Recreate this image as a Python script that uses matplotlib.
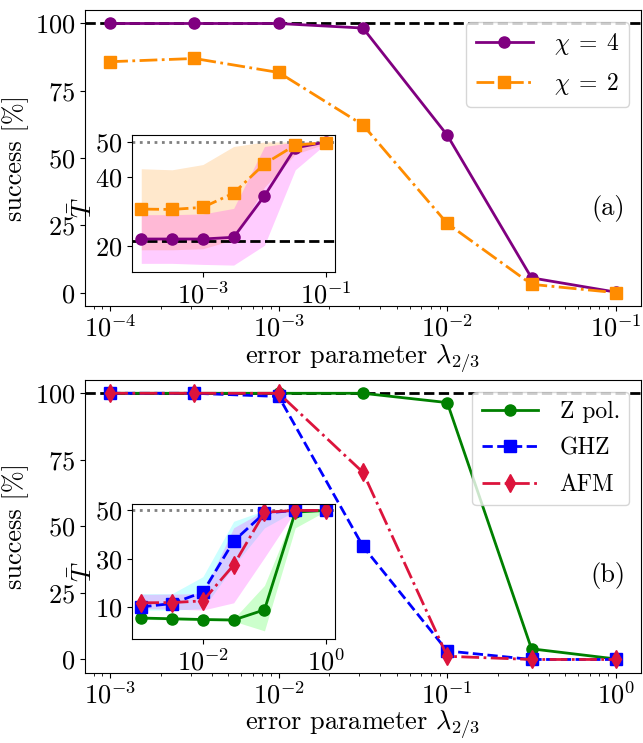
import numpy as np
import matplotlib
matplotlib.use("Agg")
import matplotlib.pyplot as plt

plt.rcParams["font.family"] = ["cmr10", "DejaVu Serif"]
plt.rcParams["mathtext.fontset"] = "cm"
plt.rcParams["axes.formatter.use_mathtext"] = True
plt.rcParams["font.size"] = 19

# ---- panel (a): bond dimension ----
lam_a = [1e-4, 10**-3.5, 1e-3, 10**-2.5, 1e-2, 10**-1.5, 1e-1]
succ_chi4 = [100, 100, 100, 98.3, 58.5, 5.5, 0.2]
succ_chi2 = [85.8, 87.0, 81.8, 62.3, 25.7, 3.1, 0.0]

T_chi4 = [22.1, 22.1, 22.1, 22.6, 34.5, 48.3, 50.0]
T_chi4_lo = [15.1, 15.1, 14.8, 14.6, 20.3, 42.0, 49.5]
T_chi4_hi = [29.1, 29.1, 29.3, 30.9, 48.7, 50.0, 50.0]
T_chi2 = [30.7, 30.6, 31.2, 35.3, 43.7, 49.1, 49.8]
T_chi2_lo = [19.0, 19.0, 19.3, 21.9, 37.0, 46.5, 49.5]
T_chi2_hi = [42.3, 42.0, 43.5, 48.7, 50.0, 50.0, 50.0]
T_min_a = 21.6

# ---- panel (b): initial states ----
lam_b = [1e-3, 10**-2.5, 1e-2, 10**-1.5, 1e-1, 10**-0.5, 1e0]
succ_z = [100, 100, 100, 100, 96.5, 4.0, 0.2]
succ_ghz = [100, 100, 98.8, 42.5, 3.2, 0.0, 0.0]
succ_afm = [100, 100, 100, 70.3, 1.2, 0.0, 0.0]

T_z = [5.5, 5.2, 4.9, 4.7, 8.9, 49.3, 50.0]
T_z_lo = [5.0, 4.7, 4.4, 4.2, 0.2, 42.8, 49.8]
T_z_hi = [6.0, 5.7, 5.4, 5.2, 19.0, 50.0, 50.0]
T_ghz = [10.1, 11.5, 16.2, 37.3, 48.9, 50.0, 50.0]
T_ghz_lo = [8.8, 8.8, 9.4, 27.0, 42.8, 49.8, 49.8]
T_ghz_hi = [15.6, 15.6, 22.6, 45.5, 50.0, 50.0, 50.0]
T_afm = [11.8, 11.9, 12.6, 27.4, 49.2, 50.0, 50.0]
T_afm_lo = [9.4, 9.2, 8.8, 11.8, 30.5, 49.8, 49.8]
T_afm_hi = [15.3, 15.4, 15.6, 42.8, 50.0, 50.0, 50.0]

T_max = 50

fig = plt.figure(figsize=(6.43, 7.43), dpi=100)

# main axes
ax_a = fig.add_axes([0.132, 0.588, 0.865, 0.3985])
ax_b = fig.add_axes([0.132, 0.0945, 0.865, 0.3941])
# insets
in_a = fig.add_axes([0.2053, 0.6343, 0.3162, 0.184])
in_b = fig.add_axes([0.2053, 0.1405, 0.3162, 0.181])

lw = 2
ms = 8

# (a) main
ax_a.axhline(100, color="black", ls="--", lw=lw, zorder=1)
ax_a.plot(lam_a, succ_chi4, color="purple", ls="-", marker="o", lw=lw, ms=ms, label=r"$\chi\;=\;4$")
ax_a.plot(lam_a, succ_chi2, color="darkorange", ls="-.", marker="s", lw=lw, ms=ms, label=r"$\chi\;=\;2$")
ax_a.set_xscale("log")
ax_a.set_xlim(10**-4.15, 10**-0.85)
ax_a.set_ylim(-5, 105)
ax_a.set_yticks([0, 25, 50, 75, 100])
ax_a.tick_params(axis="x", which="major", pad=2.5)
ax_a.set_xlabel(r"error parameter $\lambda_{2/3}$", labelpad=1)
ax_a.set_ylabel(r"success [%]")
ax_a.text(0.94, 0.33, "(a)", transform=ax_a.transAxes, ha="center", va="center")
ax_a.legend(loc="upper right", fontsize=17, handlelength=2.4, handletextpad=0.9,
            labelspacing=0.6)

# (a) inset
in_a.fill_between(lam_a, T_chi2_lo, T_chi2_hi, color="darkorange", alpha=0.2, lw=0)
in_a.fill_between(lam_a, T_chi4_lo, T_chi4_hi, color="magenta", alpha=0.2, lw=0)
in_a.axhline(T_max, color="gray", ls=":", lw=lw)
in_a.axhline(T_min_a, color="black", ls="--", lw=lw)
in_a.plot(lam_a, T_chi4, color="purple", ls="-", marker="o", lw=lw, ms=ms)
in_a.plot(lam_a, T_chi2, color="darkorange", ls="-.", marker="s", lw=lw, ms=ms)
in_a.set_xscale("log")
in_a.set_xlim(10**-4.15, 10**-0.85)
in_a.set_ylim(12.7, 52)
in_a.set_yticks([20, 40, 50])
in_a.set_xticks([1e-3, 1e-1])
in_a.xaxis.set_minor_locator(matplotlib.ticker.NullLocator())
in_a.set_ylabel(r"$\bar{T}$")
in_a.yaxis.set_label_coords(-0.17, 0.47)

# (b) main
ax_b.axhline(100, color="black", ls="--", lw=lw, zorder=1)
ax_b.plot(lam_b, succ_z, color="green", ls="-", marker="o", lw=lw, ms=ms, label="Z pol.")
ax_b.plot(lam_b, succ_ghz, color="blue", ls="--", marker="s", lw=lw, ms=ms, label="GHZ")
ax_b.plot(lam_b, succ_afm, color="crimson", ls="-.", marker="d", lw=lw, ms=ms + 1, label="AFM")
ax_b.set_xscale("log")
ax_b.set_xlim(10**-3.15, 10**0.15)
ax_b.set_ylim(-5, 105)
ax_b.set_yticks([0, 25, 50, 75, 100])
ax_b.tick_params(axis="x", which="major", pad=2.5)
ax_b.set_xlabel(r"error parameter $\lambda_{2/3}$", labelpad=0)
ax_b.set_ylabel(r"success [%]")
ax_b.text(0.94, 0.333, "(b)", transform=ax_b.transAxes, ha="center", va="center")
ax_b.legend(loc="upper right", fontsize=17, handlelength=2.4, handletextpad=0.9,
            labelspacing=0.6)

# (b) inset
in_b.fill_between(lam_b, T_z_lo, T_z_hi, color="lime", alpha=0.2, lw=0)
in_b.fill_between(lam_b, T_ghz_lo, T_ghz_hi, color="cyan", alpha=0.2, lw=0)
in_b.fill_between(lam_b, T_afm_lo, T_afm_hi, color="magenta", alpha=0.2, lw=0)
in_b.axhline(T_max, color="gray", ls=":", lw=lw)
in_b.plot(lam_b, T_z, color="green", ls="-", marker="o", lw=lw, ms=ms)
in_b.plot(lam_b, T_ghz, color="blue", ls="--", marker="s", lw=lw, ms=ms)
in_b.plot(lam_b, T_afm, color="crimson", ls="-.", marker="d", lw=lw, ms=ms + 1)
in_b.set_xscale("log")
in_b.set_xlim(10**-3.15, 10**0.15)
in_b.set_ylim(-3, 52.6)
in_b.set_yticks([10, 30, 50])
in_b.set_xticks([1e-2, 1e0])
in_b.xaxis.set_minor_locator(matplotlib.ticker.NullLocator())
in_b.set_ylabel(r"$\bar{T}$")
in_b.yaxis.set_label_coords(-0.17, 0.5)

fig.savefig("out.png", dpi=100)
